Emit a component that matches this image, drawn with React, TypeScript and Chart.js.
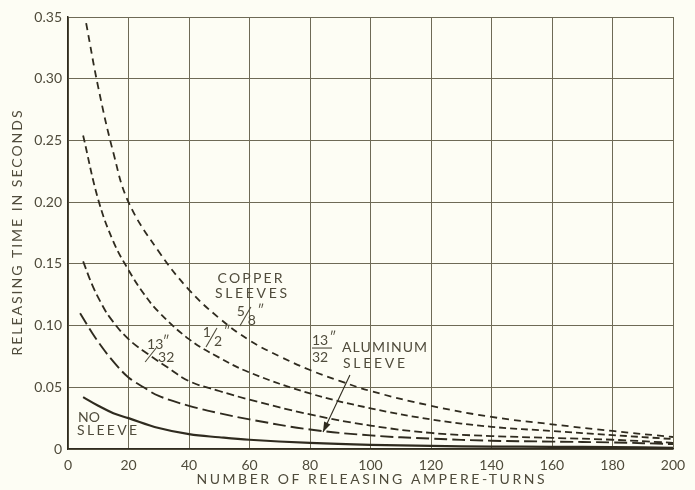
import React, { useEffect, useRef } from 'react';
import { Chart, registerables } from 'chart.js';

Chart.register(...registerables);

// ---- Data ----
const xTickValues = [0, 20, 40, 60, 80, 100, 120, 140, 160, 180, 200];
const xTickLabels = ['0', '20', '40', '60', '80', '100', '120', '140', '160', '180', '200'];
const yTickValues = [0, 0.05, 0.1, 0.15, 0.2, 0.25, 0.3, 0.35];
const yTickLabels = ['0', '0.05', '0.10', '0.15', '0.20', '0.25', '0.30', '0.35'];

const copper58X = [6, 10, 15, 20, 30, 40, 50, 60, 70, 80, 90, 100, 120, 140, 160, 180, 200];
const copper58Y = [0.345, 0.293, 0.24, 0.2, 0.16, 0.129, 0.106, 0.088, 0.075, 0.064, 0.055, 0.047, 0.035, 0.026, 0.02, 0.0146, 0.0097];

const copper12X = [5, 10, 15, 20, 25, 30, 40, 50, 60, 80, 100, 120, 140, 160, 180, 200];
const copper12Y = [0.254, 0.202, 0.168, 0.145, 0.126, 0.111, 0.089, 0.074, 0.062, 0.045, 0.033, 0.024, 0.018, 0.0146, 0.0113, 0.008];

const copper1332X = [5, 8, 11, 14, 20, 27, 33, 40, 50, 60, 80, 100, 120, 140, 160, 180, 200];
const copper1332Y = [0.152, 0.133, 0.118, 0.106, 0.089, 0.076, 0.066, 0.055, 0.047, 0.04, 0.028, 0.019, 0.013, 0.0105, 0.009, 0.0075, 0.005];

const alum1332X = [4, 8, 12, 16, 20, 25, 30, 40, 50, 60, 80, 100, 120, 140, 160, 180, 200];
const alum1332Y = [0.11, 0.094, 0.08, 0.068, 0.058, 0.05, 0.043, 0.035, 0.029, 0.024, 0.0158, 0.011, 0.0084, 0.0067, 0.006, 0.0053, 0.004];

const noSleeveX = [5, 10, 15, 20, 30, 40, 50, 60, 80, 100, 120, 140, 160, 180, 200];
const noSleeveY = [0.042, 0.035, 0.029, 0.025, 0.017, 0.012, 0.0095, 0.0075, 0.005, 0.0034, 0.0025, 0.002, 0.0018, 0.0015, 0.001];

const xTitle = 'NUMBER OF RELEASING AMPERE-TURNS';
const yTitle = 'RELEASING TIME IN SECONDS';

const BG = '#fdfdf4';
const INK = '#2f2b1f';
const GRID = '#6e6a55';
const TEXT = '#4f4b3b';
const FONT = 'Lato, "DejaVu Sans", sans-serif';

const toPts = (xs: number[], ys: number[]) => xs.map((x, i) => ({ x, y: ys[i] }));

function spacedText(ctx: CanvasRenderingContext2D, text: string, cx: number, cy: number, targetWidth: number, align: 'center' | 'left' = 'center') {
  (ctx as any).letterSpacing = '0px';
  const w0 = ctx.measureText(text).width;
  const n = text.length;
  const ls = Math.max(0, (targetWidth - w0) / Math.max(1, n - 1));
  (ctx as any).letterSpacing = ls + 'px';
  const total = w0 + ls * (n - 1);
  ctx.textAlign = 'left';
  ctx.textBaseline = 'middle';
  const left = align === 'center' ? cx - total / 2 : cx;
  ctx.fillText(text, left, cy);
  (ctx as any).letterSpacing = '0px';
}

function diagFrac(ctx: CanvasRenderingContext2D, cx: number, cy: number, num: string, den: string) {
  ctx.textBaseline = 'middle';
  ctx.textAlign = 'center';
  ctx.font = `14px ${FONT}`;
  const nw = ctx.measureText(num).width;
  const dw = ctx.measureText(den).width;
  ctx.fillText(num, cx - 4 - nw / 2 + 3, cy - 5);
  ctx.beginPath();
  ctx.moveTo(cx - 6, cy + 9);
  ctx.lineTo(cx + 5, cy - 10);
  ctx.lineWidth = 1.1;
  ctx.strokeStyle = TEXT;
  ctx.stroke();
  ctx.fillText(den, cx + 4 + dw / 2 - 2, cy + 4);
  ctx.font = `13px ${FONT}`;
  ctx.fillText('\u2033', cx + 4 + dw + 3, cy - 6);
}

const annotationPlugin = {
  id: 'annots',
  beforeDraw(chart: any) {
    const { ctx, width, height } = chart;
    ctx.save();
    ctx.fillStyle = BG;
    ctx.fillRect(0, 0, width, height);
    ctx.restore();
  },
  afterDraw(chart: any) {
    const { ctx } = chart;
    const xs = chart.scales.x;
    const ys = chart.scales.y;
    const X = (v: number) => xs.getPixelForValue(v);
    const Y = (v: number) => ys.getPixelForValue(v);
    ctx.save();
    ctx.fillStyle = TEXT;
    ctx.strokeStyle = TEXT;

    // Axis titles
    ctx.font = `14px ${FONT}`;
    spacedText(ctx, xTitle, (xs.left + xs.right) / 2, 479, 348);
    ctx.save();
    ctx.translate(17, (ys.top + ys.bottom) / 2);
    ctx.rotate(-Math.PI / 2);
    spacedText(ctx, yTitle, 0, 0, 245);
    ctx.restore();

    // Copper sleeves
    ctx.font = `14px ${FONT}`;
    spacedText(ctx, 'COPPER', X(60.2), Y(0.1378), 65);
    spacedText(ctx, 'SLEEVES', X(60.5), Y(0.1256), 72);
    diagFrac(ctx, X(58.8), Y(0.107), '5', '8');
    diagFrac(ctx, X(47.6), Y(0.09), '1', '2');

    // 13/32 copper (diagonal, stacked)
    {
      const cx = X(29.8), cy = Y(0.0786);
      ctx.font = `14px ${FONT}`;
      ctx.textAlign = 'center';
      ctx.textBaseline = 'middle';
      ctx.fillText('13', cx - 3, cy - 8);
      ctx.font = `13px ${FONT}`;
      ctx.fillText('\u2033', cx + 8, cy - 10);
      ctx.font = `14px ${FONT}`;
      ctx.fillText('32', cx + 8, cy + 5);
      ctx.beginPath();
      ctx.moveTo(cx - 13, cy + 10);
      ctx.lineTo(cx - 2, cy - 4);
      ctx.lineWidth = 1.1;
      ctx.stroke();
    }

    // 13/32 aluminum (stacked with bar)
    {
      const cx = X(84.3), cy = Y(0.0818);
      ctx.font = `14px ${FONT}`;
      ctx.textAlign = 'center';
      ctx.textBaseline = 'middle';
      ctx.fillText('13', cx - 3, cy - 8);
      ctx.font = `13px ${FONT}`;
      ctx.fillText('\u2033', cx + 10, cy - 10);
      ctx.font = `14px ${FONT}`;
      ctx.fillText('32', cx - 3, cy + 9);
      ctx.beginPath();
      ctx.moveTo(cx - 11, cy);
      ctx.lineTo(cx + 9, cy);
      ctx.lineWidth = 1.1;
      ctx.stroke();
      spacedText(ctx, 'ALUMINUM', X(90.6), Y(0.0822), 85, 'left');
      spacedText(ctx, 'SLEEVE', X(90.9), Y(0.0689), 62, 'left');
    }

    // arrow
    {
      const x1 = X(93.2), y1 = Y(0.06), x2 = X(84.3), y2 = Y(0.0138);
      ctx.beginPath();
      ctx.moveTo(x1, y1);
      ctx.lineTo(x2, y2);
      ctx.lineWidth = 1.1;
      ctx.strokeStyle = INK;
      ctx.stroke();
      const ang = Math.atan2(y2 - y1, x2 - x1);
      const L = 10, W = 3.5;
      ctx.beginPath();
      ctx.moveTo(x2, y2);
      ctx.lineTo(x2 - L * Math.cos(ang) + W * Math.sin(ang), y2 - L * Math.sin(ang) - W * Math.cos(ang));
      ctx.lineTo(x2 - L * Math.cos(ang) - W * Math.sin(ang), y2 - L * Math.sin(ang) + W * Math.cos(ang));
      ctx.closePath();
      ctx.fillStyle = INK;
      ctx.fill();
      ctx.fillStyle = TEXT;
    }

    // No sleeve
    ctx.font = `14px ${FONT}`;
    spacedText(ctx, 'NO', X(3.3), Y(0.0259), 22, 'left');
    spacedText(ctx, 'SLEEVE', X(3.0), Y(0.0146), 60, 'left');

    ctx.restore();
  },
};

export default function App() {
  const canvasRef = useRef<HTMLCanvasElement | null>(null);

  useEffect(() => {
    document.body.style.background = BG;
    const canvas = canvasRef.current;
    if (!canvas) return;
    const tickFont = { family: FONT, size: 14 };
    const chart = new Chart(canvas, {
      type: 'line',
      data: {
        datasets: [
          { label: '5/8" copper', data: toPts(copper58X, copper58Y), borderColor: INK, borderWidth: 1.8, borderDash: [7, 5] },
          { label: '1/2" copper', data: toPts(copper12X, copper12Y), borderColor: INK, borderWidth: 1.8, borderDash: [7, 4] },
          { label: '13/32" copper', data: toPts(copper1332X, copper1332Y), borderColor: INK, borderWidth: 1.8, borderDash: [8, 4] },
          { label: '13/32" aluminum', data: toPts(alum1332X, alum1332Y), borderColor: INK, borderWidth: 1.9, borderDash: [13, 5] },
          { label: 'No sleeve', data: toPts(noSleeveX, noSleeveY), borderColor: INK, borderWidth: 2.2 },
        ].map((d) => ({ ...d, pointRadius: 0, fill: false, tension: 0.4 })),
      },
      options: {
        animation: false,
        responsive: false,
        maintainAspectRatio: false,
        layout: { padding: { top: 17, right: 22, left: 0, bottom: 0 } },
        plugins: { legend: { display: false }, tooltip: { enabled: false }, title: { display: false } },
        scales: {
          x: {
            type: 'linear',
            min: 0,
            max: 200,
            afterBuildTicks: (s: any) => { s.ticks = xTickValues.map((v) => ({ value: v })); },
            afterFit: (s: any) => { s.height = 41; },
            ticks: {
              padding: 8,
              color: TEXT,
              font: tickFont,
              maxRotation: 0,
              autoSkip: false,
              callback: (_v: any, i: number) => xTickLabels[i],
            },
            grid: { color: GRID, lineWidth: 1, drawTicks: false },
            border: { color: INK, width: 1.5 },
          },
          y: {
            type: 'linear',
            min: 0,
            max: 0.35,
            afterBuildTicks: (s: any) => { s.ticks = yTickValues.map((v) => ({ value: v })); },
            afterFit: (s: any) => { s.width = 68; },
            ticks: {
              padding: 6,
              color: TEXT,
              font: tickFont,
              autoSkip: false,
              callback: (_v: any, i: number) => yTickLabels[i],
            },
            grid: { color: GRID, lineWidth: 1, drawTicks: false },
            border: { color: INK, width: 1.5 },
          },
        },
      },
      plugins: [annotationPlugin],
    });
    return () => chart.destroy();
  }, []);

  return (
    <div style={{ position: 'fixed', left: 0, top: 0, width: 695, height: 490, background: BG }}>
      <canvas ref={canvasRef} width={695} height={490} style={{ width: 695, height: 490, display: 'block' }} />
    </div>
  );
}
